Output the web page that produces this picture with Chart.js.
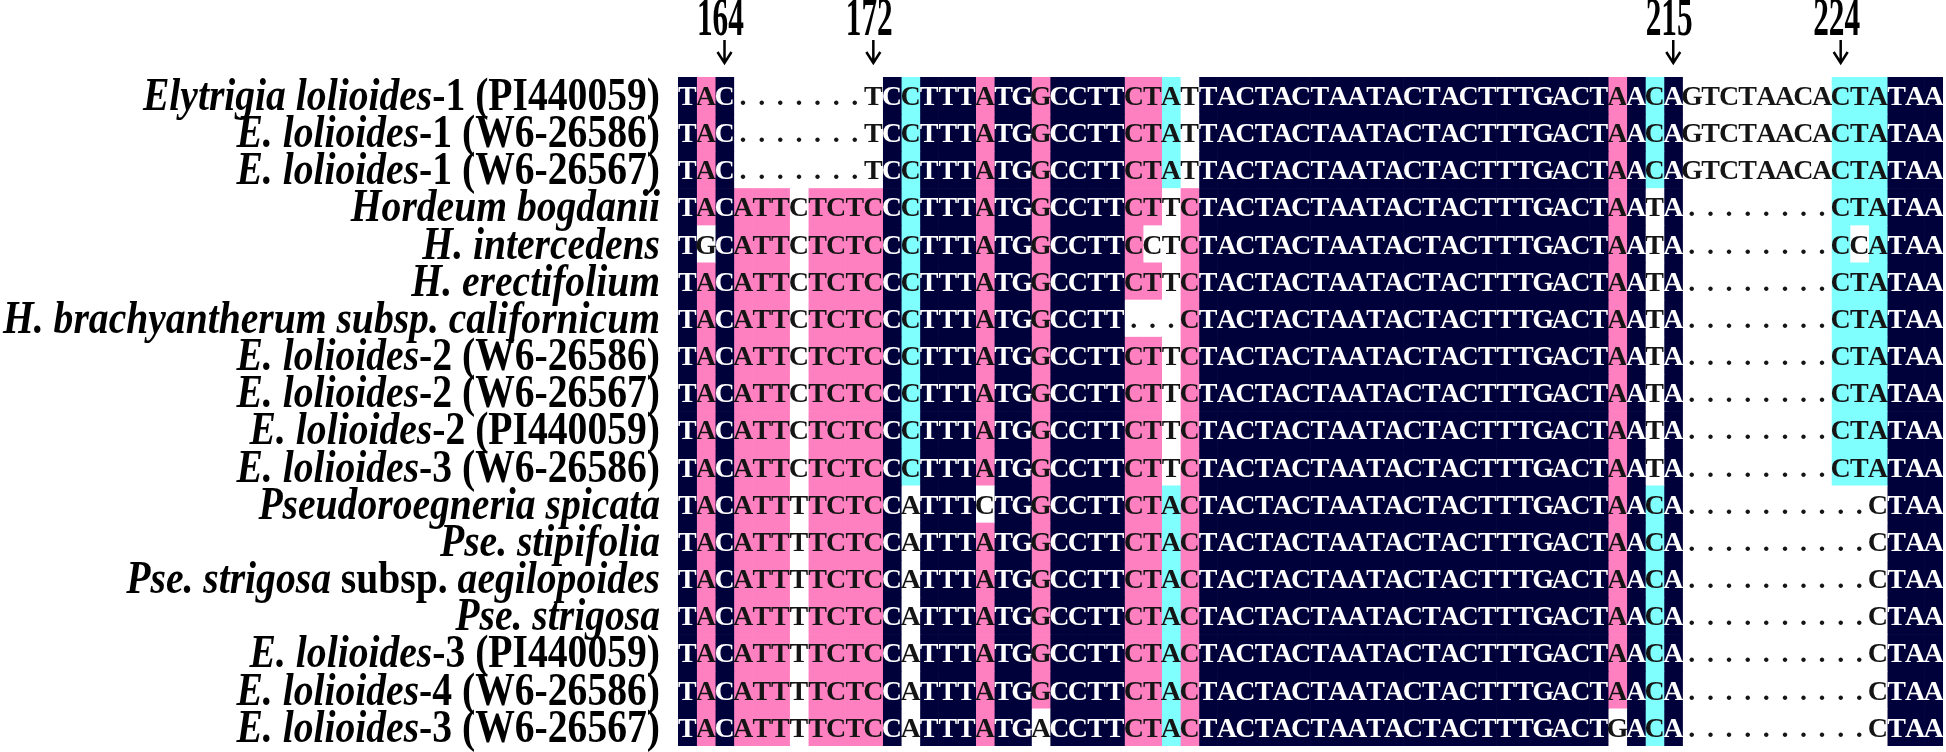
<!DOCTYPE html>
<html><head><meta charset="utf-8">
<script src="https://cdn.jsdelivr.net/npm/chart.js@4.4.1/dist/chart.umd.min.js"></script>
<style>html,body{margin:0;padding:0;background:#fff;overflow:hidden}#wrap{width:1946px;height:752px;position:relative}canvas{display:block}</style>
</head><body><div id="wrap"><canvas id="c" width="1946" height="752"></canvas></div>
<script>
// Row labels (*...* = italic part)
const rowLabels = [
  '*Elytrigia lolioides*-1 (PI440059)',
  '*E. lolioides*-1 (W6-26586)',
  '*E. lolioides*-1 (W6-26567)',
  '*Hordeum bogdanii*',
  '*H. intercedens*',
  '*H. erectifolium*',
  '*H. brachyantherum subsp. californicum*',
  '*E. lolioides*-2 (W6-26586)',
  '*E. lolioides*-2 (W6-26567)',
  '*E. lolioides*-2 (PI440059)',
  '*E. lolioides*-3 (W6-26586)',
  '*Pseudoroegneria spicata*',
  '*Pse. stipifolia*',
  '*Pse. strigosa* subsp. *aegilopoides*',
  '*Pse. strigosa*',
  '*E. lolioides*-3 (PI440059)',
  '*E. lolioides*-4 (W6-26586)',
  '*E. lolioides*-3 (W6-26567)'
];
// Aligned sequences (68 columns each)
const sequences = [
  'TAC.......TCCTTTATGGCCTTCTATTACTACTAATACTACTTTGACTAACAGTCTAACACTATAA',
  'TAC.......TCCTTTATGGCCTTCTATTACTACTAATACTACTTTGACTAACAGTCTAACACTATAA',
  'TAC.......TCCTTTATGGCCTTCTATTACTACTAATACTACTTTGACTAACAGTCTAACACTATAA',
  'TACATTCTCTCCCTTTATGGCCTTCTTCTACTACTAATACTACTTTGACTAATA........CTATAA',
  'TGCATTCTCTCCCTTTATGGCCTTCCTCTACTACTAATACTACTTTGACTAATA........CCATAA',
  'TACATTCTCTCCCTTTATGGCCTTCTTCTACTACTAATACTACTTTGACTAATA........CTATAA',
  'TACATTCTCTCCCTTTATGGCCTT...CTACTACTAATACTACTTTGACTAATA........CTATAA',
  'TACATTCTCTCCCTTTATGGCCTTCTTCTACTACTAATACTACTTTGACTAATA........CTATAA',
  'TACATTCTCTCCCTTTATGGCCTTCTTCTACTACTAATACTACTTTGACTAATA........CTATAA',
  'TACATTCTCTCCCTTTATGGCCTTCTTCTACTACTAATACTACTTTGACTAATA........CTATAA',
  'TACATTCTCTCCCTTTATGGCCTTCTTCTACTACTAATACTACTTTGACTAATA........CTATAA',
  'TACATTTTCTCCATTTCTGGCCTTCTACTACTACTAATACTACTTTGACTAACA..........CTAA',
  'TACATTTTCTCCATTTATGGCCTTCTACTACTACTAATACTACTTTGACTAACA..........CTAA',
  'TACATTTTCTCCATTTATGGCCTTCTACTACTACTAATACTACTTTGACTAACA..........CTAA',
  'TACATTTTCTCCATTTATGGCCTTCTACTACTACTAATACTACTTTGACTAACA..........CTAA',
  'TACATTTTCTCCATTTATGGCCTTCTACTACTACTAATACTACTTTGACTAACA..........CTAA',
  'TACATTTTCTCCATTTATGGCCTTCTACTACTACTAATACTACTTTGACTAACA..........CTAA',
  'TACATTTTCTCCATTTATGACCTTCTACTACTACTAATACTACTTTGACTGACA..........CTAA'
];
// Shading class per cell: n = identical, p = high, c = medium, w = none
const N22 = 'nnnnnnnnnnnnnnnnnnnnnn';
const shading = [
  'npnwwwwwwwwncnnnpnnpnnnnppcw' + N22 + 'pncnwwwwwwwwcccnnn',
  'npnwwwwwwwwncnnnpnnpnnnnppcw' + N22 + 'pncnwwwwwwwwcccnnn',
  'npnwwwwwwwwncnnnpnnpnnnnppcw' + N22 + 'pncnwwwwwwwwcccnnn',
  'npnpppwppppncnnnpnnpnnnnppwp' + N22 + 'pnwnwwwwwwwwcccnnn',
  'nwnpppwppppncnnnpnnpnnnnpwwp' + N22 + 'pnwnwwwwwwwwcwcnnn',
  'npnpppwppppncnnnpnnpnnnnppwp' + N22 + 'pnwnwwwwwwwwcccnnn',
  'npnpppwppppncnnnpnnpnnnnwwwp' + N22 + 'pnwnwwwwwwwwcccnnn',
  'npnpppwppppncnnnpnnpnnnnppwp' + N22 + 'pnwnwwwwwwwwcccnnn',
  'npnpppwppppncnnnpnnpnnnnppwp' + N22 + 'pnwnwwwwwwwwcccnnn',
  'npnpppwppppncnnnpnnpnnnnppwp' + N22 + 'pnwnwwwwwwwwcccnnn',
  'npnpppwppppncnnnpnnpnnnnppwp' + N22 + 'pnwnwwwwwwwwcccnnn',
  'npnpppwppppnwnnnwnnpnnnnppcp' + N22 + 'pncnwwwwwwwwwwwnnn',
  'npnpppwppppnwnnnpnnpnnnnppcp' + N22 + 'pncnwwwwwwwwwwwnnn',
  'npnpppwppppnwnnnpnnpnnnnppcp' + N22 + 'pncnwwwwwwwwwwwnnn',
  'npnpppwppppnwnnnpnnpnnnnppcp' + N22 + 'pncnwwwwwwwwwwwnnn',
  'npnpppwppppnwnnnpnnpnnnnppcp' + N22 + 'pncnwwwwwwwwwwwnnn',
  'npnpppwppppnwnnnpnnpnnnnppcp' + N22 + 'pncnwwwwwwwwwwwnnn',
  'npnpppwppppnwnnnpnnwnnnnppcp' + N22 + 'wncnwwwwwwwwwwwnnn'
];
// Position markers
const markerLabels = ['164', '172', '215', '224'];
const markerColumns = [2, 10, 53, 62];

const shadeColors = { n: '#00003a', p: '#ff80c0', c: '#80ffff', w: '#ffffff' };
const nCols = sequences[0].length;
const plainLabels = rowLabels.map(s => s.replace(/\*/g, ''));

const datasets = [];
for (let c = 0; c < nCols; c++) {
  datasets.push({
    data: sequences.map(() => [c, c + 1]),
    backgroundColor: shading.map(s => shadeColors[s[c]]),
    borderWidth: 0,
    grouped: false,
    barPercentage: 1,
    categoryPercentage: 1
  });
}

const overlay = {
  id: 'overlay',
  afterDatasetsDraw(chart) {
    const ctx = chart.ctx, xs = chart.scales.x, ys = chart.scales.y;
    ctx.save();
    // sequence letters
    ctx.font = 'bold 28px "Liberation Serif"';
    ctx.textAlign = 'center';
    ctx.textBaseline = 'alphabetic';
    sequences.forEach((s, r) => {
      const y = ys.getPixelForValue(r);
      for (let c = 0; c < s.length; c++) {
        ctx.fillStyle = shading[r][c] === 'n' ? '#ffffff' : '#151515';
        ctx.fillText(s[c], xs.getPixelForValue(c + 0.5), y + 9.4);
      }
    });
    // row labels
    const em = 46;
    const fUp = 'bold ' + em + 'px "Liberation Serif"';
    const fIt = 'italic bold ' + em + 'px "Liberation Serif"';
    const measure = lab => lab.split('*').reduce((w, seg, i) => {
      ctx.font = i % 2 ? fIt : fUp; return w + ctx.measureText(seg).width;
    }, 0);
    const sx = 657 / measure(rowLabels[6]);
    ctx.textAlign = 'left';
    ctx.fillStyle = '#000';
    const right = xs.left - 18;
    rowLabels.forEach((lab, r) => {
      const y = ys.getPixelForValue(r) + em * 0.31;
      const w = measure(lab);
      ctx.save();
      ctx.translate(right, y);
      ctx.scale(sx, 1);
      let x = -w;
      lab.split('*').forEach((seg, i) => {
        ctx.font = i % 2 ? fIt : fUp;
        ctx.fillText(seg, x, 0);
        x += ctx.measureText(seg).width;
      });
      ctx.restore();
    });
    // markers
    ctx.strokeStyle = '#000';
    ctx.lineWidth = 2.5;
    markerColumns.forEach((col, i) => {
      const x = xs.getPixelForValue(col + 0.5);
      ctx.save();
      ctx.translate(x, 35);
      ctx.scale(0.58, 1);
      ctx.font = 'bold 54px "Liberation Serif"';
      ctx.textAlign = 'center';
      ctx.fillText(markerLabels[i], -7, 0);
      ctx.restore();
      ctx.beginPath();
      ctx.moveTo(x, 40); ctx.lineTo(x, 63);
      ctx.moveTo(x - 7, 52); ctx.lineTo(x, 63); ctx.lineTo(x + 7, 52);
      ctx.stroke();
    });
    ctx.restore();
  }
};

new Chart(document.getElementById('c'), {
  type: 'bar',
  data: { labels: plainLabels, datasets },
  options: {
    indexAxis: 'y',
    responsive: false,
    animation: false,
    devicePixelRatio: 1,
    layout: { padding: { left: 678, top: 77, right: 3, bottom: 6 } },
    plugins: { legend: { display: false }, tooltip: { enabled: false } },
    scales: {
      x: { type: 'linear', min: 0, max: nCols, display: false },
      y: { type: 'category', display: false, offset: true }
    }
  },
  plugins: [overlay]
});
</script>
</body></html>
